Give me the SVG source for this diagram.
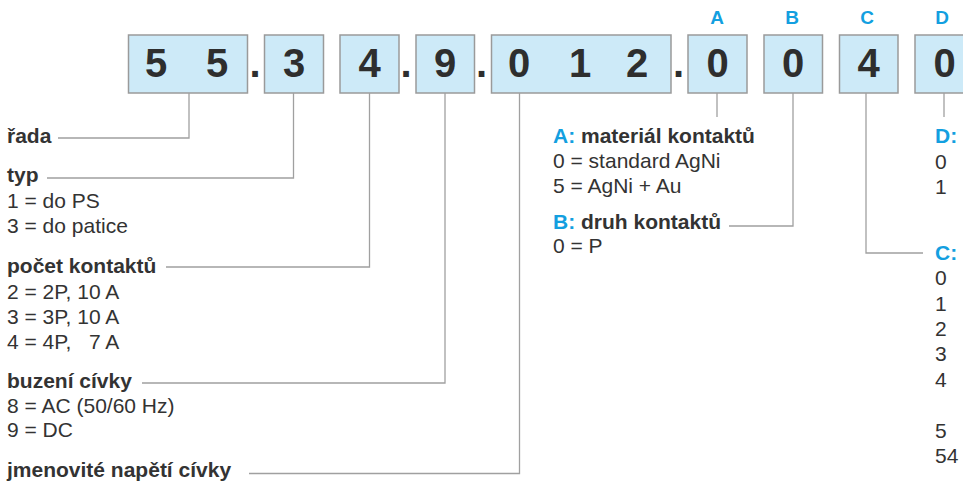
<svg xmlns="http://www.w3.org/2000/svg" width="963" height="483" viewBox="0 0 963 483">
<style>
.box{fill:#cdeaf8;stroke:#9a9a9a;stroke-width:1.5}
.dg{font-family:"Liberation Sans",Arial,sans-serif;font-weight:bold;font-size:40px;fill:#2e2e2e;text-anchor:middle}
.t{font-family:"Liberation Sans",Arial,sans-serif;font-size:21px;fill:#333}
.b{font-weight:bold}
.bl{fill:#139fe0}
.hd{font-family:"Liberation Sans",Arial,sans-serif;font-weight:bold;font-size:19px;fill:#139fe0;text-anchor:middle}
.cn{fill:none;stroke:#a0a0a0;stroke-width:1.3}
</style>
<rect width="963" height="483" fill="#ffffff"/>
<g id="box-serie"><rect class="box" x="128.5" y="35" width="119" height="58"/><text class="dg" x="156" y="77">5</text><text class="dg" x="217" y="77">5</text></g>
<text class="dg" x="255" y="77">.</text>
<g id="box-typ"><rect class="box" x="264.5" y="35" width="59" height="58"/><text class="dg" x="294" y="77">3</text></g>
<g id="box-pocet"><rect class="box" x="340" y="35" width="59" height="58"/><text class="dg" x="369.5" y="77">4</text></g>
<text class="dg" x="406" y="77">.</text>
<g id="box-buzeni"><rect class="box" x="416" y="35" width="58.5" height="58"/><text class="dg" x="445" y="77">9</text></g>
<text class="dg" x="481.5" y="77">.</text>
<g id="box-napeti"><rect class="box" x="491.5" y="35" width="179.5" height="58"/><text class="dg" x="519" y="77">0</text><text class="dg" x="580" y="77">1</text><text class="dg" x="637" y="77">2</text></g>
<text class="dg" x="678.5" y="77">.</text>
<g id="box-A"><text class="hd" x="717" y="24">A</text><rect class="box" x="688" y="35" width="59" height="58"/><text class="dg" x="717.5" y="77">0</text></g>
<g id="box-B"><text class="hd" x="792" y="24">B</text><rect class="box" x="764" y="35" width="58.5" height="58"/><text class="dg" x="793" y="77">0</text></g>
<g id="box-C"><text class="hd" x="867" y="24">C</text><rect class="box" x="839.5" y="35" width="58.5" height="58"/><text class="dg" x="868.5" y="77">4</text></g>
<g id="box-D"><text class="hd" x="942" y="24">D</text><rect class="box" x="915" y="35" width="59" height="58"/><text class="dg" x="944.5" y="77">0</text></g>
<g id="connectors">
<path class="cn" d="M189 93V138H58"/>
<path class="cn" d="M293.5 93V178H47"/>
<path class="cn" d="M369.5 93V267H166"/>
<path class="cn" d="M445 93V383H142"/>
<path class="cn" d="M519.5 93V473.5H249"/>
<path class="cn" d="M717 93V117"/>
<path class="cn" d="M793 93V226H729"/>
<path class="cn" d="M866 93V253H923"/>
<path class="cn" d="M944 93V117"/>
</g>
<g id="label-rada"><text class="t b" x="7" y="143">řada</text></g>
<g id="label-typ"><text class="t b" x="7" y="182">typ</text><text class="t" x="7" y="208">1 = do PS</text><text class="t" x="7" y="233">3 = do patice</text></g>
<g id="label-pocet"><text class="t b" x="7" y="273">počet kontaktů</text><text class="t" x="7" y="299">2 = 2P, 10 A</text><text class="t" x="7" y="324">3 = 3P, 10 A</text><text class="t" x="7" y="349" xml:space="preserve" style="white-space:pre">4 = 4P,   7 A</text></g>
<g id="label-buzeni"><text class="t b" x="7" y="388">buzení cívky</text><text class="t" x="7" y="413">8 = AC (50/60 Hz)</text><text class="t" x="7" y="437">9 = DC</text></g>
<g id="label-napeti"><text class="t b" x="7" y="477">jmenovité napětí cívky</text></g>
<g id="label-A"><text class="t b" x="553" y="143"><tspan class="bl">A:</tspan> materiál kontaktů</text><text class="t" x="553" y="168">0 = standard AgNi</text><text class="t" x="553" y="193">5 = AgNi + Au</text></g>
<g id="label-B"><text class="t b" x="553" y="229"><tspan class="bl">B:</tspan> druh kontaktů</text><text class="t" x="553" y="253">0 = P</text></g>
<g id="label-D"><text class="t b bl" x="935" y="143">D:</text><text class="t" x="935" y="169">0</text><text class="t" x="935" y="194">1</text></g>
<g id="label-C"><text class="t b bl" x="935" y="260">C:</text><text class="t" x="935" y="285">0</text><text class="t" x="935" y="311">1</text><text class="t" x="935" y="336">2</text><text class="t" x="935" y="361">3</text><text class="t" x="935" y="387">4</text><text class="t" x="935" y="438">5</text><text class="t" x="935" y="463">54</text></g>
</svg>
